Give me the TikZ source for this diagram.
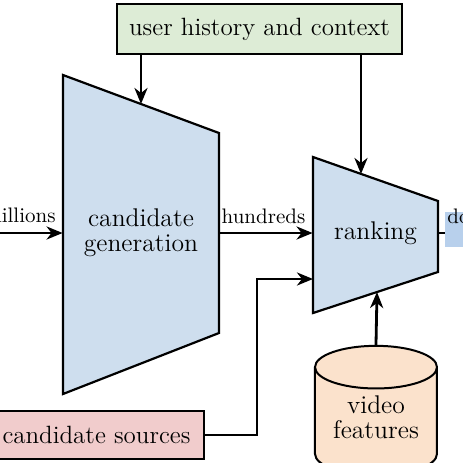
\documentclass[tikz,border=0pt]{standalone}
\usepackage{tikz}
\usetikzlibrary{positioning, arrows.meta, shapes.geometric}
\definecolor{genblue}{RGB}{206,222,238}
\definecolor{ctxgreen}{RGB}{221,236,214}
\definecolor{srcpink}{RGB}{241,204,204}
\definecolor{featorange}{RGB}{251,226,204}
\definecolor{outblue}{RGB}{184,208,236}
\tikzset{
>={Stealth[length=8pt, width=6.5pt, inset=2.5pt]}, % bold arrow heads
flow/.style={->, line width=1.4pt}, % the connectors
stage/.style={draw, line width=1.1pt, fill=genblue}, % the two funnels
inbox/.style={draw, line width=1pt, inner sep=0pt, font=\fontsize{12.5}{14}\selectfont},
lbl/.style={font=\fontsize{10.5}{12}\selectfont, inner sep=0pt},
big/.style={font=\fontsize{12.8}{12.5}\selectfont, align=center},
}

\begin{document}
\begin{tikzpicture}[x=0.5pt, y=-0.5pt]
        \useasboundingbox (0,0) rectangle (463,463);
        \clip (0,0) rectangle (463,463);

        % candidate generation funnel
        \draw[stage] (63,75) -- (219,133) -- (219,333) -- (63,394) -- cycle;
        \node[big, minimum width=78pt] (cg) at (141,233) {candidate\\generation};
        \coordinate (cgtop) at (141,104);

        % ranking funnel
        \draw[stage] (313,157) -- (438,201) -- (438,272) -- (313,313) -- cycle;
        \node[big, minimum width=62.5pt] (rk) at (375.5,233) {ranking};
        \coordinate (rktop) at (361,174);
        \coordinate (rkin) at (313,279);
        \coordinate (rkbot) at (377,292);

        % inputs
        \node[inbox, fill=ctxgreen, minimum width=142.5pt, minimum height=25pt] (ctx) at (259.5,29) {user history and context};
        \node[inbox, fill=srcpink, minimum width=107.5pt, minimum height=24pt] (src) at (96.5,435) {candidate sources};
        \node[cylinder, shape border rotate=90, draw, line width=1pt, fill=featorange, aspect=0.43,
              minimum width=61pt, minimum height=57.5pt, align=center, big, text depth=9pt] (vf) at (376,426.5) {video\\features};

        % output
        \node[lbl, fill=outblue, anchor=north west, inner xsep=1pt, text height=5.5pt, text depth=12pt] (out) at (445,212) {dozens};

        \coordinate (inp) at (-5,233);
        \draw[flow] (inp) -- (cg.west);
        \node[lbl, anchor=base east] (mil) at (56,222) {millions};
        \draw[flow] (cg.east) -- (rk.west);
        \node[lbl, anchor=base] (hun) at (263.5,223) {hundreds};
        \draw[line width=1.4pt] (rk.east) -- (rk.east -| out.west);

        \draw[flow] (ctx.south -| cgtop) -- (cgtop);
        \draw[flow] (ctx.south -| rktop) -- (rktop);
        \draw[flow] (src.east) -- ++(52,0) |- (rkin);
        \draw[flow] (vf.north) -- (rkbot);
\end{tikzpicture}
\end{document}
